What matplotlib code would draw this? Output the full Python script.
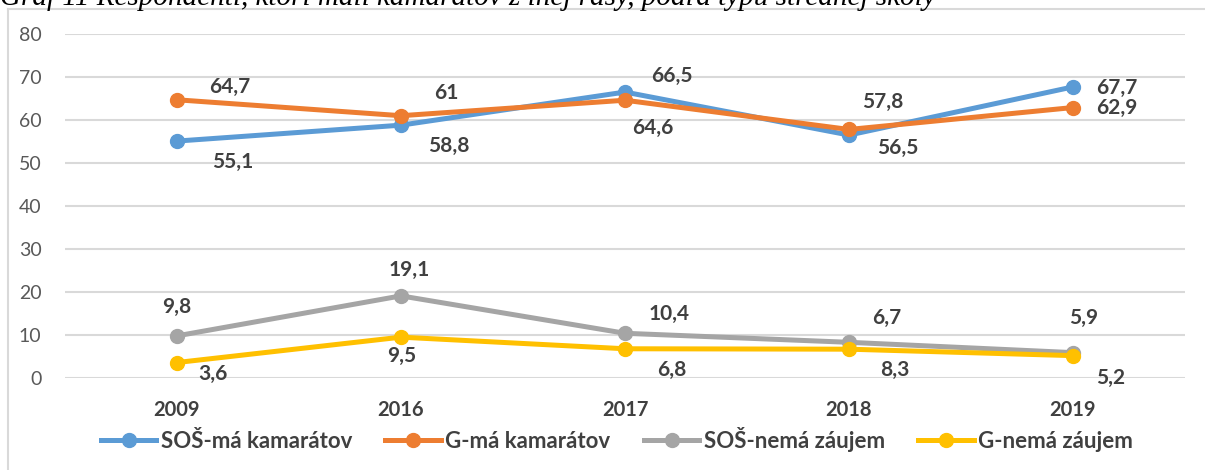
import matplotlib.pyplot as plt
from matplotlib.lines import Line2D

plt.rcParams["font.family"] = ["Lato", "DejaVu Sans"]

years = ["2009", "2016", "2017", "2018", "2019"]

sos_friends = [55.1, 58.8, 66.5, 56.5, 67.7]
g_friends = [64.7, 61.0, 64.6, 57.8, 62.9]
sos_none = [9.8, 19.1, 10.4, 8.3, 5.9]
g_none = [3.6, 9.5, 6.8, 6.7, 5.2]

sos_friends_labels = ["55,1", "58,8", "66,5", "56,5", "67,7"]
g_friends_labels = ["64,7", "61", "64,6", "57,8", "62,9"]
sos_none_labels = ["9,8", "19,1", "10,4", "6,7", "5,9"]
g_none_labels = ["3,6", "9,5", "6,8", "8,3", "5,2"]

names = ["SOŠ-má kamarátov", "G-má kamarátov", "SOŠ-nemá záujem", "G-nemá záujem"]
colors = ["#5B9BD5", "#ED7D31", "#A5A5A5", "#FFC000"]

# label offsets in pixels (dx, dy), one per point
offsets = [
    [(56, -21), (48, -21), (47, 16), (49, -13), (44, -1)],
    [(53, 13), (45, 23), (28, -28), (34, 27), (44, 0)],
    [(0, 29), (8, 26), (44, 19), (38, 24), (11, 35)],
    [(36, -11), (1, -19), (47, -21), (46, -21), (38, -22)],
]

fig = plt.figure(figsize=(12.05, 4.70), dpi=100)
ax = fig.add_axes([65 / 1205, 92 / 470, 1120 / 1205, 344 / 470])

x = list(range(len(years)))
series = [sos_friends, g_friends, sos_none, g_none]
labels = [sos_friends_labels, g_friends_labels, sos_none_labels, g_none_labels]

for vals, labs, col, offs, name in zip(series, labels, colors, offsets, names):
    ax.plot(x, vals, color=col, lw=3.6, marker="o", ms=10, label=name,
            solid_capstyle="round", zorder=3)
    for xi, v, t, (dx, dy) in zip(x, vals, labs, offs):
        ax.annotate(t, (xi, v), xytext=(dx, dy), textcoords="offset pixels",
                    ha="center", va="center", fontsize=15, fontweight="bold",
                    color="#404040", zorder=4)

ax.set_xlim(-0.5, 4.5)
ax.set_ylim(0, 80)
ax.set_yticks(range(0, 81, 10))
ax.set_xticks(x)
ax.set_xticklabels(years, fontweight="bold")
ax.tick_params(axis="x", length=0, pad=16, labelsize=14.5, labelcolor="#404040")
ax.tick_params(axis="y", length=0, pad=17, labelsize=14, labelcolor="#595959")
ax.grid(axis="y", color="#D9D9D9", lw=1.5)
ax.set_axisbelow(True)
for s in ax.spines.values():
    s.set_visible(False)

handles = [Line2D([], [], color=c, lw=3.6, marker="o", ms=10) for c in colors]
leg = fig.legend(handles, names, loc="center", bbox_to_anchor=(617 / 1205, 1 - 439 / 470),
                 ncol=4, frameon=False, handlelength=2.5, handletextpad=0.2,
                 columnspacing=1.5, prop={"size": 16, "weight": "bold"})
for t in leg.get_texts():
    t.set_color("#404040")

# chart border (only top and left edges are visible)
fig.add_artist(Line2D([8 / 1205, 8 / 1205], [0, 1 - 9 / 470], color="#D9D9D9", lw=1.5,
                      transform=fig.transFigure))
fig.add_artist(Line2D([8 / 1205, 1], [1 - 9 / 470, 1 - 9 / 470], color="#D9D9D9", lw=1.5,
                      transform=fig.transFigure))

# caption cut off at the top edge, as in the source
fig.text(0.0, 1 - 5 / 470, "Graf 11 Respondenti, ktorí mali kamarátov z inej rasy, podľa typu strednej školy",
         family="Liberation Serif", style="italic", fontsize=21, va="baseline", ha="left",
         color="black")

fig.savefig("out.png", dpi=100)
